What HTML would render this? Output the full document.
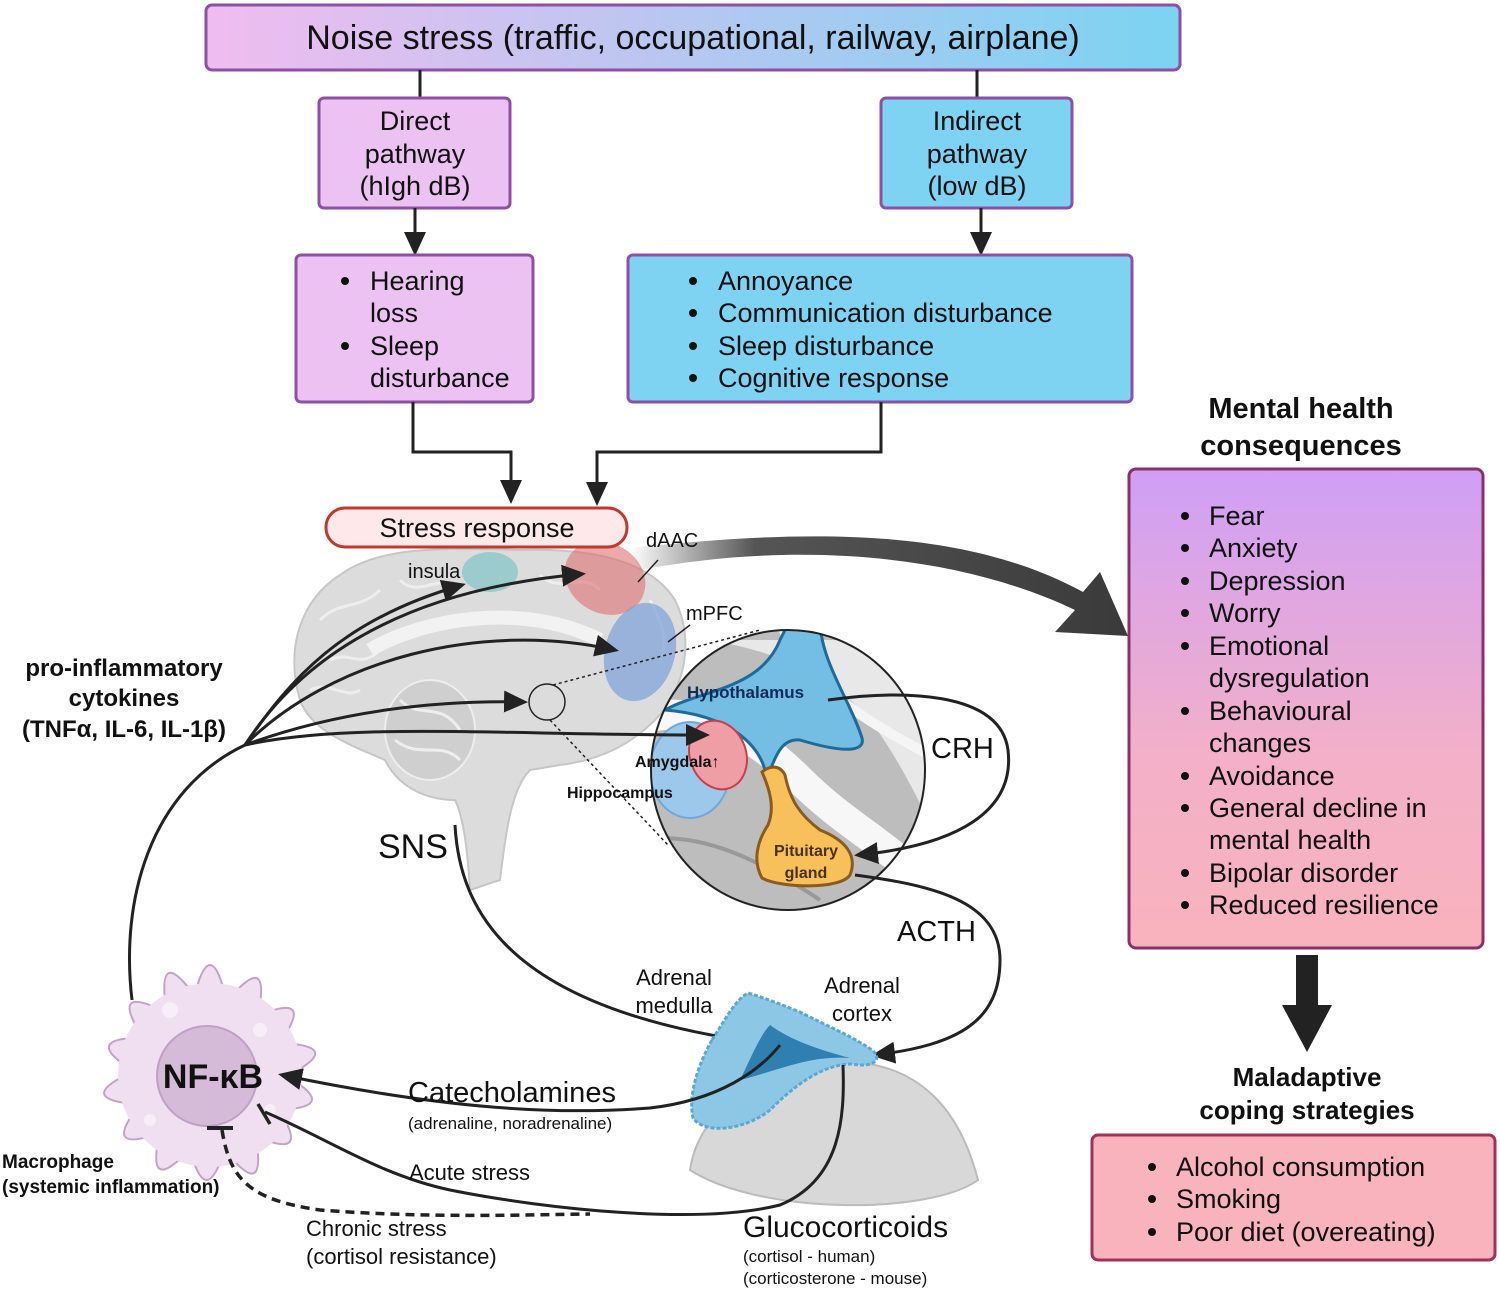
<!DOCTYPE html>
<html><head><meta charset="utf-8"><style>
html,body{margin:0;padding:0;background:#fff}
svg{display:block}
text{font-family:"Liberation Sans",Arial,sans-serif;fill:#111}
</style></head><body>
<svg width="1500" height="1291" viewBox="0 0 1500 1291" xmlns="http://www.w3.org/2000/svg">
<defs>
<linearGradient id="gtop" x1="0" x2="1" y1="0" y2="0"><stop offset="0" stop-color="#f0bcef"/><stop offset="1" stop-color="#7bd3f2"/></linearGradient>
<linearGradient id="gmh" x1="0" x2="0" y1="0" y2="1"><stop offset="0" stop-color="#cf9ff6"/><stop offset="0.6" stop-color="#f3b0c8"/><stop offset="1" stop-color="#f9b3bd"/></linearGradient>
<linearGradient id="garr" x1="0" x2="1" y1="0" y2="0"><stop offset="0" stop-color="#555" stop-opacity="0"/><stop offset="0.25" stop-color="#555"/><stop offset="1" stop-color="#3a3a3a"/></linearGradient>
<marker id="ab" markerWidth="24" markerHeight="22" refX="20" refY="11" orient="auto" markerUnits="userSpaceOnUse"><path d="M0,0 L24,11 L0,22 Z" fill="#222"/></marker>
<clipPath id="circ"><ellipse cx="788" cy="770" rx="137" ry="140"/></clipPath>
</defs>

<!-- top -->
<rect x="206" y="5" width="974" height="65" rx="6" fill="url(#gtop)" stroke="#8e4fa5" stroke-width="3"/>
<text x="693" y="49" font-size="34" text-anchor="middle">Noise stress (traffic, occupational, railway, airplane)</text>
<line x1="420" y1="70" x2="420" y2="98" stroke="#222" stroke-width="3"/>
<line x1="977" y1="70" x2="977" y2="98" stroke="#222" stroke-width="3"/>

<rect x="319" y="98" width="191" height="110" rx="5" fill="#ecc2f2" stroke="#8e4fa5" stroke-width="3"/>
<text font-size="27" text-anchor="middle"><tspan x="415" y="130">Direct</tspan><tspan x="415" y="163">pathway</tspan><tspan x="415" y="195">(hIgh dB)</tspan></text>
<rect x="881" y="98" width="191" height="110" rx="5" fill="#7ed3f2" stroke="#8e4fa5" stroke-width="3"/>
<text font-size="27" text-anchor="middle"><tspan x="977" y="130">Indirect</tspan><tspan x="977" y="163">pathway</tspan><tspan x="977" y="195">(low dB)</tspan></text>

<path d="M415,208 V252" stroke="#222" stroke-width="3" marker-end="url(#ab)"/>
<path d="M981,208 V252" stroke="#222" stroke-width="3" marker-end="url(#ab)"/>

<rect x="296" y="255" width="237" height="147" rx="5" fill="#ecc2f2" stroke="#8e4fa5" stroke-width="3"/>
<g font-size="27"><circle cx="345" cy="281" r="4" fill="#111"/><circle cx="345" cy="346" r="4" fill="#111"/>
<text x="370" y="290">Hearing</text><text x="370" y="322">loss</text><text x="370" y="355">Sleep</text><text x="370" y="387">disturbance</text></g>
<rect x="628" y="255" width="504" height="147" rx="5" fill="#7ed3f2" stroke="#8e4fa5" stroke-width="3"/>
<g font-size="27"><circle cx="693" cy="281" r="4" fill="#111"/><circle cx="693" cy="313" r="4" fill="#111"/><circle cx="693" cy="346" r="4" fill="#111"/><circle cx="693" cy="378" r="4" fill="#111"/>
<text x="718" y="290">Annoyance</text><text x="718" y="322">Communication disturbance</text><text x="718" y="355">Sleep disturbance</text><text x="718" y="387">Cognitive response</text></g>

<path d="M413,402 V452 H511 V500" fill="none" stroke="#222" stroke-width="3" marker-end="url(#ab)"/>
<path d="M881,402 V452 H597 V502" fill="none" stroke="#222" stroke-width="3" marker-end="url(#ab)"/>

<!-- brain -->
<path d="M300,700 C285,650 300,600 340,575 C380,545 450,548 520,550 C590,548 650,560 675,600 C695,640 685,690 655,720 C630,745 600,760 560,765 L530,770 C510,790 505,840 500,880 L470,890 C468,860 465,820 455,800 C430,800 400,790 385,760 C350,745 310,730 300,700 Z" fill="#dcdcdc" stroke="#c6c6c6" stroke-width="2"/>
<g fill="none" stroke="#eeeeee" stroke-width="3">
<path d="M320,620 C340,600 360,610 380,590 M400,580 C420,600 440,570 460,590 M330,660 C350,650 360,670 380,650 M310,690 C330,680 345,700 360,690 M540,575 C560,595 580,570 600,590 M650,600 C660,620 670,640 660,660"/>
</g>
<path d="M370,650 C420,620 520,600 600,640" fill="none" stroke="#f2f2f2" stroke-width="14"/>
<ellipse cx="430" cy="730" rx="45" ry="50" fill="#cfcfcf" stroke="#eee" stroke-width="2"/>
<path d="M400,700 C420,720 440,700 460,730 M395,740 C420,760 440,740 460,760" fill="none" stroke="#eee" stroke-width="3"/>
<ellipse cx="490" cy="572" rx="28" ry="20" fill="#7fc3c4" opacity="0.7"/>
<ellipse cx="605" cy="578" rx="42" ry="35" fill="#e07070" opacity="0.6" transform="rotate(30 605 578)"/>
<ellipse cx="640" cy="652" rx="35" ry="50" fill="#7a9fd8" opacity="0.7" transform="rotate(15 640 652)"/>
<circle cx="547" cy="702" r="18" fill="none" stroke="#222" stroke-width="1.5"/>
<line x1="553" y1="685" x2="760" y2="630" stroke="#222" stroke-width="1.5" stroke-dasharray="3,3"/>
<line x1="550" y1="720" x2="668" y2="845" stroke="#222" stroke-width="1.5" stroke-dasharray="3,3"/>
<!-- big gray arrow -->
<path d="M640,570 C800,540 960,555 1075,610 L1055,632 L1128,636 L1100,572 L1083,592 C960,525 800,530 630,548 Z" fill="url(#garr)"/>
<g font-size="20"><text x="646" y="547">dAAC</text><text x="686" y="620">mPFC</text><text x="408" y="578">insula</text></g>
<line x1="658" y1="560" x2="638" y2="582" stroke="#222" stroke-width="1.5"/>
<line x1="690" y1="625" x2="668" y2="642" stroke="#222" stroke-width="1.5"/>

<rect x="326" y="508" width="301" height="39" rx="19" fill="#fde9e9" stroke="#c2392f" stroke-width="3"/>
<text x="477" y="537" font-size="27" text-anchor="middle">Stress response</text>

<!-- zoom circle -->
<g clip-path="url(#circ)">
<rect x="640" y="620" width="300" height="300" fill="#bdbdbd"/>
<path d="M640,640 C720,630 820,660 870,720 C900,760 930,820 940,850 L940,640 Z" fill="#e8e8e8"/>
<path d="M780,620 C800,680 860,720 940,760" fill="none" stroke="#f5f5f5" stroke-width="10"/>
<path d="M640,720 C700,700 760,740 800,780 C850,830 900,850 940,900" fill="none" stroke="#f7f7f7" stroke-width="30"/>
<path d="M640,840 C700,830 760,860 820,900" fill="none" stroke="#999" stroke-width="4"/>
<path d="M665,710 C700,690 760,690 780,640 L790,620 L820,620 C820,660 850,700 862,738 C865,750 850,755 800,740 C780,738 775,760 770,770 L765,770 C758,745 730,715 665,710 Z" fill="#74bde3" stroke="#1e6a98" stroke-width="3"/>
<ellipse cx="690" cy="770" rx="40" ry="48" fill="#9cc8ec" stroke="#6fa8de" stroke-width="2"/>
<ellipse cx="718" cy="755" rx="28" ry="35" fill="#ef9ea5" stroke="#cc3c4a" stroke-width="2" transform="rotate(-20 718 755)"/>
<path d="M762,772 C770,765 780,765 785,775 C790,800 800,815 820,830 C845,840 858,855 850,875 C840,890 780,888 762,878 C752,860 758,840 768,825 C775,808 770,790 762,772 Z" fill="#f7c05a" stroke="#8a5a1e" stroke-width="3"/>
</g>
<ellipse cx="788" cy="770" rx="137" ry="140" fill="none" stroke="#222" stroke-width="2"/>
<text x="687" y="698" font-size="17" font-weight="bold" style="fill:#0e2d5a">Hypothalamus</text>
<text x="635" y="767" font-size="16" font-weight="bold">Amygdala↑</text>
<text x="567" y="798" font-size="16" font-weight="bold">Hippocampus</text>
<text font-size="16" font-weight="bold" text-anchor="middle" style="fill:#4a3210"><tspan x="806" y="856">Pituitary</tspan><tspan x="806" y="878">gland</tspan></text>
<path d="M828,700 C900,690 1000,690 1008,750 C1015,810 960,845 858,855" fill="none" stroke="#222" stroke-width="3" marker-end="url(#ab)"/>
<text x="931" y="758" font-size="29">CRH</text>
<path d="M855,875 C930,885 1000,900 1000,960 C1000,1020 960,1045 875,1055" fill="none" stroke="#222" stroke-width="3" marker-end="url(#ab)"/>
<text x="897" y="941" font-size="29">ACTH</text>

<!-- macrophage (drawn first so arrows show) -->
<g fill="#efdff0" stroke="#c4a1c8" stroke-width="2" stroke-linejoin="round">
<g transform="rotate(0 210 1075)"><path d="M196,990 Q210,940 224,990 Z"/></g>
<g transform="rotate(26 210 1075)"><path d="M196,990 Q210,945 224,990 Z"/></g>
<g transform="rotate(52 210 1075)"><path d="M196,990 Q210,950 224,990 Z"/></g>
<g transform="rotate(78 210 1075)"><path d="M196,990 Q210,945 224,990 Z"/></g>
<g transform="rotate(104 210 1075)"><path d="M196,990 Q210,950 224,990 Z"/></g>
<g transform="rotate(130 210 1075)"><path d="M196,990 Q210,952 224,990 Z"/></g>
<g transform="rotate(156 210 1075)"><path d="M196,990 Q210,945 224,990 Z"/></g>
<g transform="rotate(182 210 1075)"><path d="M196,990 Q210,950 224,990 Z"/></g>
<g transform="rotate(208 210 1075)"><path d="M196,990 Q210,947 224,990 Z"/></g>
<g transform="rotate(234 210 1075)"><path d="M196,990 Q210,950 224,990 Z"/></g>
<g transform="rotate(260 210 1075)"><path d="M196,990 Q210,945 224,990 Z"/></g>
<g transform="rotate(286 210 1075)"><path d="M196,990 Q210,950 224,990 Z"/></g>
<g transform="rotate(312 210 1075)"><path d="M196,990 Q210,947 224,990 Z"/></g>
<g transform="rotate(338 210 1075)"><path d="M196,990 Q210,940 224,990 Z"/></g>
</g>
<circle cx="210" cy="1075" r="92" fill="#efdff0"/>
<g fill="#f7eef7"><circle cx="170" cy="1010" r="8"/><circle cx="260" cy="1030" r="7"/><circle cx="150" cy="1120" r="6"/><circle cx="270" cy="1110" r="6"/></g>
<circle cx="207" cy="1076" r="50" fill="#d6bbd8" stroke="#c0a0c4" stroke-width="2"/>
<text x="213" y="1088" font-size="34" font-weight="bold" text-anchor="middle">NF-κB</text>

<!-- arrows into brain -->
<path d="M245,745 C290,680 340,620 462,585" fill="none" stroke="#222" stroke-width="3" marker-end="url(#ab)"/>
<path d="M245,745 C300,660 400,590 582,574" fill="none" stroke="#222" stroke-width="3" marker-end="url(#ab)"/>
<path d="M245,745 C330,660 480,620 615,650" fill="none" stroke="#222" stroke-width="3" marker-end="url(#ab)"/>
<path d="M245,745 C340,710 440,700 524,702" fill="none" stroke="#222" stroke-width="3" marker-end="url(#ab)"/>
<path d="M245,745 C350,722 500,735 706,735" fill="none" stroke="#222" stroke-width="3" marker-end="url(#ab)"/>
<path d="M132,1000 C120,900 150,790 245,745" fill="none" stroke="#222" stroke-width="3"/>
<text font-size="24" font-weight="bold" text-anchor="middle"><tspan x="124" y="676">pro-inflammatory</tspan><tspan x="124" y="706">cytokines</tspan><tspan x="124" y="737">(TNFα, IL-6, IL-1β)</tspan></text>
<text x="378" y="858" font-size="34">SNS</text>
<path d="M455,825 C460,920 520,1010 760,1043" fill="none" stroke="#222" stroke-width="3" marker-end="url(#ab)"/>

<!-- adrenal -->
<path d="M690,1170 C700,1100 780,1060 850,1062 C920,1065 960,1110 978,1180 C930,1215 760,1215 690,1170 Z" fill="#d8d8d8" stroke="#bbb" stroke-width="2"/>
<path d="M712,1040 C725,1020 735,1000 748,993 C765,998 782,1005 800,1012 C825,1025 850,1035 872,1050 C884,1060 872,1068 852,1064 C820,1064 790,1090 770,1110 C745,1130 705,1135 693,1118 C688,1095 698,1065 712,1040 Z" fill="#8cc8e6" stroke="#5aa8d4" stroke-width="3" stroke-dasharray="4,2"/>
<path d="M740,1080 C750,1060 760,1035 770,1025 C790,1040 820,1050 850,1058 C810,1055 780,1070 740,1080 Z" fill="#2f7fb0"/>
<path d="M780,1045 C760,1070 720,1100 650,1108 C560,1115 450,1110 282,1075" fill="none" stroke="#222" stroke-width="3" marker-end="url(#ab)"/>
<path d="M843,1065 C845,1120 840,1180 780,1205 C700,1225 550,1210 450,1190 C380,1175 330,1140 265,1112" fill="none" stroke="#222" stroke-width="3"/>
<line x1="258" y1="1104" x2="270" y2="1124" stroke="#222" stroke-width="3.5"/>
<path d="M222,1130 C230,1180 250,1200 320,1210 C420,1218 520,1215 590,1214" fill="none" stroke="#222" stroke-width="3.5" stroke-dasharray="9,6"/>
<line x1="207" y1="1128" x2="233" y2="1128" stroke="#222" stroke-width="4"/>
<text font-size="19" font-weight="bold"><tspan x="2" y="1168">Macrophage</tspan><tspan x="2" y="1193">(systemic inflammation)</tspan></text>

<g font-size="22">
<text x="674" y="985" text-anchor="middle">Adrenal</text><text x="674" y="1013" text-anchor="middle">medulla</text>
<text x="862" y="993" text-anchor="middle">Adrenal</text><text x="862" y="1021" text-anchor="middle">cortex</text>
<text x="408" y="1102" font-size="29">Catecholamines</text>
<text x="408" y="1129" font-size="17">(adrenaline, noradrenaline)</text>
<text x="409" y="1180">Acute stress</text>
<text x="306" y="1236">Chronic stress</text><text x="306" y="1264">(cortisol resistance)</text>
<text x="743" y="1237" font-size="30">Glucocorticoids</text>
<text x="743" y="1262" font-size="17">(cortisol - human)</text>
<text x="743" y="1284" font-size="17">(corticosterone - mouse)</text>
</g>

<!-- right -->
<text font-size="29" font-weight="bold" text-anchor="middle"><tspan x="1301" y="418">Mental health</tspan><tspan x="1301" y="455">consequences</tspan></text>
<rect x="1129" y="469" width="354" height="479" rx="7" fill="url(#gmh)" stroke="#8a3268" stroke-width="3"/>
<g font-size="27">
<g fill="#111"><circle cx="1185" cy="516" r="4"/><circle cx="1185" cy="548" r="4"/><circle cx="1185" cy="581" r="4"/><circle cx="1185" cy="613" r="4"/><circle cx="1185" cy="646" r="4"/><circle cx="1185" cy="711" r="4"/><circle cx="1185" cy="776" r="4"/><circle cx="1185" cy="808" r="4"/><circle cx="1185" cy="873" r="4"/><circle cx="1185" cy="905" r="4"/></g>
<text x="1209" y="525">Fear</text><text x="1209" y="557">Anxiety</text><text x="1209" y="590">Depression</text><text x="1209" y="622">Worry</text><text x="1209" y="655">Emotional</text><text x="1209" y="687">dysregulation</text><text x="1209" y="720">Behavioural</text><text x="1209" y="752">changes</text><text x="1209" y="785">Avoidance</text><text x="1209" y="817">General decline in</text><text x="1209" y="849">mental health</text><text x="1209" y="882">Bipolar disorder</text><text x="1209" y="914">Reduced resilience</text>
</g>
<path d="M1296,955 H1318 V1005 H1332 L1307,1052 L1282,1005 H1296 Z" fill="#222"/>
<text font-size="26" font-weight="bold" text-anchor="middle"><tspan x="1307" y="1086">Maladaptive</tspan><tspan x="1307" y="1119">coping strategies</tspan></text>
<rect x="1092" y="1135" width="403" height="125" rx="6" fill="#f8b3bd" stroke="#a2305a" stroke-width="3"/>
<g font-size="27"><g fill="#111"><circle cx="1152" cy="1167" r="4"/><circle cx="1152" cy="1199" r="4"/><circle cx="1152" cy="1232" r="4"/></g>
<text x="1176" y="1176">Alcohol consumption</text><text x="1176" y="1208">Smoking</text><text x="1176" y="1241">Poor diet (overeating)</text></g>
</svg>
</body></html>
